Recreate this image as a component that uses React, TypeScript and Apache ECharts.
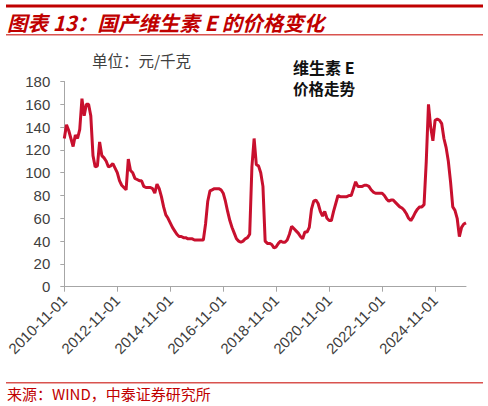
import { useEffect, useRef } from 'react'
import * as echarts from 'echarts'

// 月度价格（元/千克），2010-11 起
const startYear = 2010
const startMonth = 11
const prices = [
  130, 142, 137, 130, 123, 133, 130, 138, 165, 150, 160, 160, 150,
  115, 105, 106, 127, 115, 113, 110, 105, 106, 108, 104, 100,
  93, 89, 87, 85, 112, 102, 100, 95, 94, 93, 93, 88,
  87, 87, 87, 86, 82, 90, 86, 79, 70, 63, 60, 56,
  52, 49, 46, 44, 44, 43, 43, 42, 42, 42, 41, 41,
  41, 41, 41, 55, 75, 84, 85, 86, 86, 86, 85, 82,
  75, 66, 58, 52, 47, 42, 40, 39, 40, 42, 43, 46,
  105, 130, 107, 106, 100, 88, 40, 38, 38, 37, 34, 35,
  38, 40, 39, 39, 41, 46, 53, 51, 49, 47, 44, 42,
  48, 48, 52, 68, 75, 76, 73, 66, 62, 66, 60, 58,
  58, 66, 73, 80, 79, 79, 79, 79, 80, 80, 86, 92,
  88, 88, 88, 89, 89, 88, 85, 83, 82, 82, 82, 82,
  80, 77, 75, 76, 76, 74, 72, 70, 69, 67, 64, 60,
  58, 61, 65, 68, 70, 70, 72, 110, 160, 140, 128, 146,
  147, 146, 143, 130, 122, 110, 92, 70, 67, 60, 44, 52,
  55, 56,
]

const categories = prices.map((_, i) => {
  const m = startMonth - 1 + i
  const y = startYear + Math.floor(m / 12)
  const mm = String((m % 12) + 1).padStart(2, '0')
  return `${y}-${mm}-01`
})

const RED = '#C00000'
const LINE = '#C8102E'
const AXIS = '#A6A6A6'
const CJK = '"Noto Sans CJK SC", sans-serif'
const LATIN = '"Liberation Sans", Arial, sans-serif'

export default function App() {
  const chartRef = useRef<HTMLDivElement>(null)

  useEffect(() => {
    if (!chartRef.current) return
    const chart = echarts.init(chartRef.current, null, { renderer: 'svg' })

    const option: echarts.EChartsOption = {
      animation: false,
      backgroundColor: '#fff',
      grid: { left: 64.3, right: 22, top: 81.5, bottom: 119.3 },
      xAxis: {
        type: 'category',
        data: categories,
        boundaryGap: false,
        axisLine: { lineStyle: { color: AXIS, width: 1 } },
        axisTick: { interval: 23, length: 5, lineStyle: { color: AXIS } },
        axisLabel: {
          interval: 23,
          rotate: 45,
          margin: 11,
          fontSize: 15,
          fontFamily: LATIN,
          color: '#404040',
        },
        splitLine: { show: false },
      },
      yAxis: {
        type: 'value',
        min: 0,
        max: 180,
        interval: 20,
        axisLine: { show: true, lineStyle: { color: AXIS, width: 1 } },
        axisTick: { show: true, length: 4, lineStyle: { color: AXIS } },
        axisLabel: { fontSize: 15, fontFamily: LATIN, color: '#404040', margin: 14 },
        splitLine: { show: false },
      },
      series: [
        {
          type: 'line',
          data: prices,
          symbol: 'none',
          lineStyle: { color: LINE, width: 3 },
        },
      ],
      graphic: [
        { type: 'rect', shape: { x: 6, y: 4.5, width: 477, height: 3 }, style: { fill: RED } },
        {
          type: 'text',
          x: 7,
          y: 22,
          style: {
            text: '图表 13：国产维生素 E 的价格变化',
            fill: RED,
            fontSize: 20.5,
            fontWeight: 'bold',
            fontStyle: 'italic',
            fontFamily: CJK,
            verticalAlign: 'middle',
          },
        },
        { type: 'rect', shape: { x: 6, y: 34, width: 477, height: 1.5 }, style: { fill: '#D9534F' } },
        {
          type: 'text',
          x: 92,
          y: 60,
          style: {
            text: '单位：元/千克',
            fill: '#404040',
            fontSize: 15.5,
            fontFamily: CJK,
            verticalAlign: 'middle',
          },
        },
        {
          type: 'text',
          x: 293,
          y: 67,
          style: {
            text: '维生素 E',
            fill: '#111',
            fontSize: 16,
            fontWeight: 'bold',
            fontFamily: CJK,
            verticalAlign: 'middle',
          },
        },
        {
          type: 'text',
          x: 293,
          y: 88,
          style: {
            text: '价格走势',
            fill: '#111',
            fontSize: 15.5,
            fontWeight: 'bold',
            fontFamily: CJK,
            verticalAlign: 'middle',
          },
        },
        { type: 'rect', shape: { x: 6, y: 382, width: 477, height: 1.5 }, style: { fill: '#D9534F' } },
        {
          type: 'text',
          x: 7,
          y: 393,
          style: {
            text: '来源：WIND，中泰证券研究所',
            fill: RED,
            fontSize: 15,
            fontFamily: CJK,
            verticalAlign: 'middle',
          },
        },
      ],
    }

    chart.setOption(option)
    return () => chart.dispose()
  }, [])

  return (
    <div
      ref={chartRef}
      style={{ position: 'fixed', left: 0, top: 0, width: 488, height: 406 }}
    />
  )
}
